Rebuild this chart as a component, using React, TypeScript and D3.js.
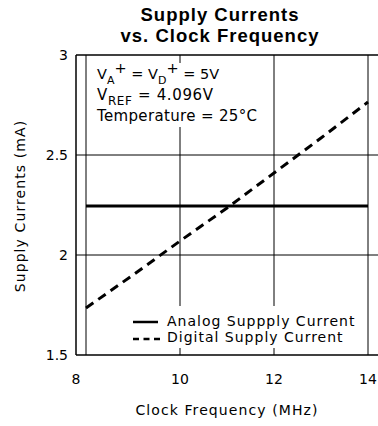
import React from "react";
import * as d3 from "d3";

const freqs = [8, 9, 10, 11, 12, 13, 14];
const analogCurrent = [2.245, 2.245, 2.245, 2.245, 2.245, 2.245, 2.245];
const digitalCurrent = [1.735, 1.9, 2.07, 2.235, 2.41, 2.585, 2.765];
const xTicks = [8, 10, 12, 14];
const yTicks = [1.5, 2, 2.5, 3];
const yTickLabels = ["1.5", "2", "2.5", "3"];
const titleLines = ["Supply Currents", "vs. Clock Frequency"];
const legendLabels = ["Analog Suppply Current", "Digital Supply Current"];

const W = 378, H = 426;
const fontTxt = "'DejaVu Sans', sans-serif";

export default function App() {
  const frameLeft = 76, frameTop = 55, frameBottom = 355;
  const x = d3.scaleLinear().domain([8, 14]).range([86, 368]);
  const y = d3.scaleLinear().domain([1.5, 3]).range([355, 55]);
  const line = d3.line<number>().x((_, i) => x(freqs[i])).y((d) => y(d));

  return (
    <svg width={W} height={H} style={{ position: "absolute", left: 0, top: 0, background: "#fff" }}>
      <rect x={0} y={0} width={W} height={H} fill="#fff" />
      {titleLines.map((t, i) => (
        <text key={t} x={220} y={21 + i * 20.5} textAnchor="middle" fontFamily="'Liberation Sans', Arial, sans-serif" fontWeight="bold" fontSize={18.5} letterSpacing={1}>
          {t}
        </text>
      ))}
      {/* gridlines */}
      {xTicks.map((v) => (
        <line key={"gx" + v} x1={x(v)} x2={x(v)} y1={frameTop} y2={frameBottom} stroke="#000" strokeWidth={1} />
      ))}
      {yTicks.slice(1, 3).map((v) => (
        <line key={"gy" + v} x1={frameLeft} x2={W} y1={y(v)} y2={y(v)} stroke="#000" strokeWidth={1} />
      ))}
      {/* frame */}
      <line x1={frameLeft} x2={W} y1={frameTop} y2={frameTop} stroke="#000" strokeWidth={1.5} />
      <line x1={frameLeft} x2={W} y1={frameBottom} y2={frameBottom} stroke="#000" strokeWidth={1.5} />
      <line x1={frameLeft} x2={frameLeft} y1={frameTop} y2={frameBottom} stroke="#000" strokeWidth={1.5} />
      {/* annotation box */}
      <rect x={90} y={63} width={172} height={64} fill="#fff" />
      <text x={97} y={79} fontFamily={fontTxt} fontSize={14.5}>
        V<tspan fontSize={11} dy={5}>A</tspan><tspan dy={-11}>+</tspan><tspan dy={6}> = V</tspan><tspan fontSize={11} dy={5}>D</tspan><tspan dy={-11}>+</tspan><tspan dy={6}> = 5V</tspan>
      </text>
      <text x={97} y={100} fontFamily={fontTxt} fontSize={15} textLength={116} lengthAdjust="spacing">
        V<tspan fontSize={12} dy={5}>REF</tspan><tspan dy={-5}> = 4.096V</tspan>
      </text>
      <text x={97} y={121} fontFamily={fontTxt} fontSize={15} textLength={160} lengthAdjust="spacing">
        Temperature = 25°C
      </text>
      {/* lines */}
      <path d={line(analogCurrent) || ""} fill="none" stroke="#000" strokeWidth={3} />
      <path d={line(digitalCurrent) || ""} fill="none" stroke="#000" strokeWidth={3} strokeDasharray="9,6" />
      {/* legend */}
      <rect x={128} y={306} width={236} height={42} fill="#fff" />
      <line x1={133} x2={158} y1={322} y2={322} stroke="#000" strokeWidth={2.5} />
      <line x1={133} x2={160} y1={339} y2={339} stroke="#000" strokeWidth={2.5} strokeDasharray="6,4.5" />
      {legendLabels.map((t, i) => (
        <text key={t} x={167} y={326 + i * 16} fontFamily={fontTxt} fontSize={14} letterSpacing={1}>{t}</text>
      ))}
      {/* y tick labels */}
      {yTicks.map((v, i) => (
        <text key={"yl" + v} x={68} y={y(v) + 5} textAnchor="end" fontFamily={fontTxt} fontSize={14}>{yTickLabels[i]}</text>
      ))}
      {/* x tick labels */}
      {xTicks.map((v) => (
        <text key={"xl" + v} x={v === 8 ? frameLeft : x(v)} y={384} textAnchor="middle" fontFamily={fontTxt} fontSize={14}>{v}</text>
      ))}
      <text x={227} y={415} textAnchor="middle" fontFamily={fontTxt} fontSize={14} letterSpacing={1.1}>Clock Frequency (MHz)</text>
      <text transform={`translate(25,${206}) rotate(-90)`} textAnchor="middle" fontFamily={fontTxt} fontSize={14} letterSpacing={1.1}>Supply Currents (mA)</text>
    </svg>
  );
}
